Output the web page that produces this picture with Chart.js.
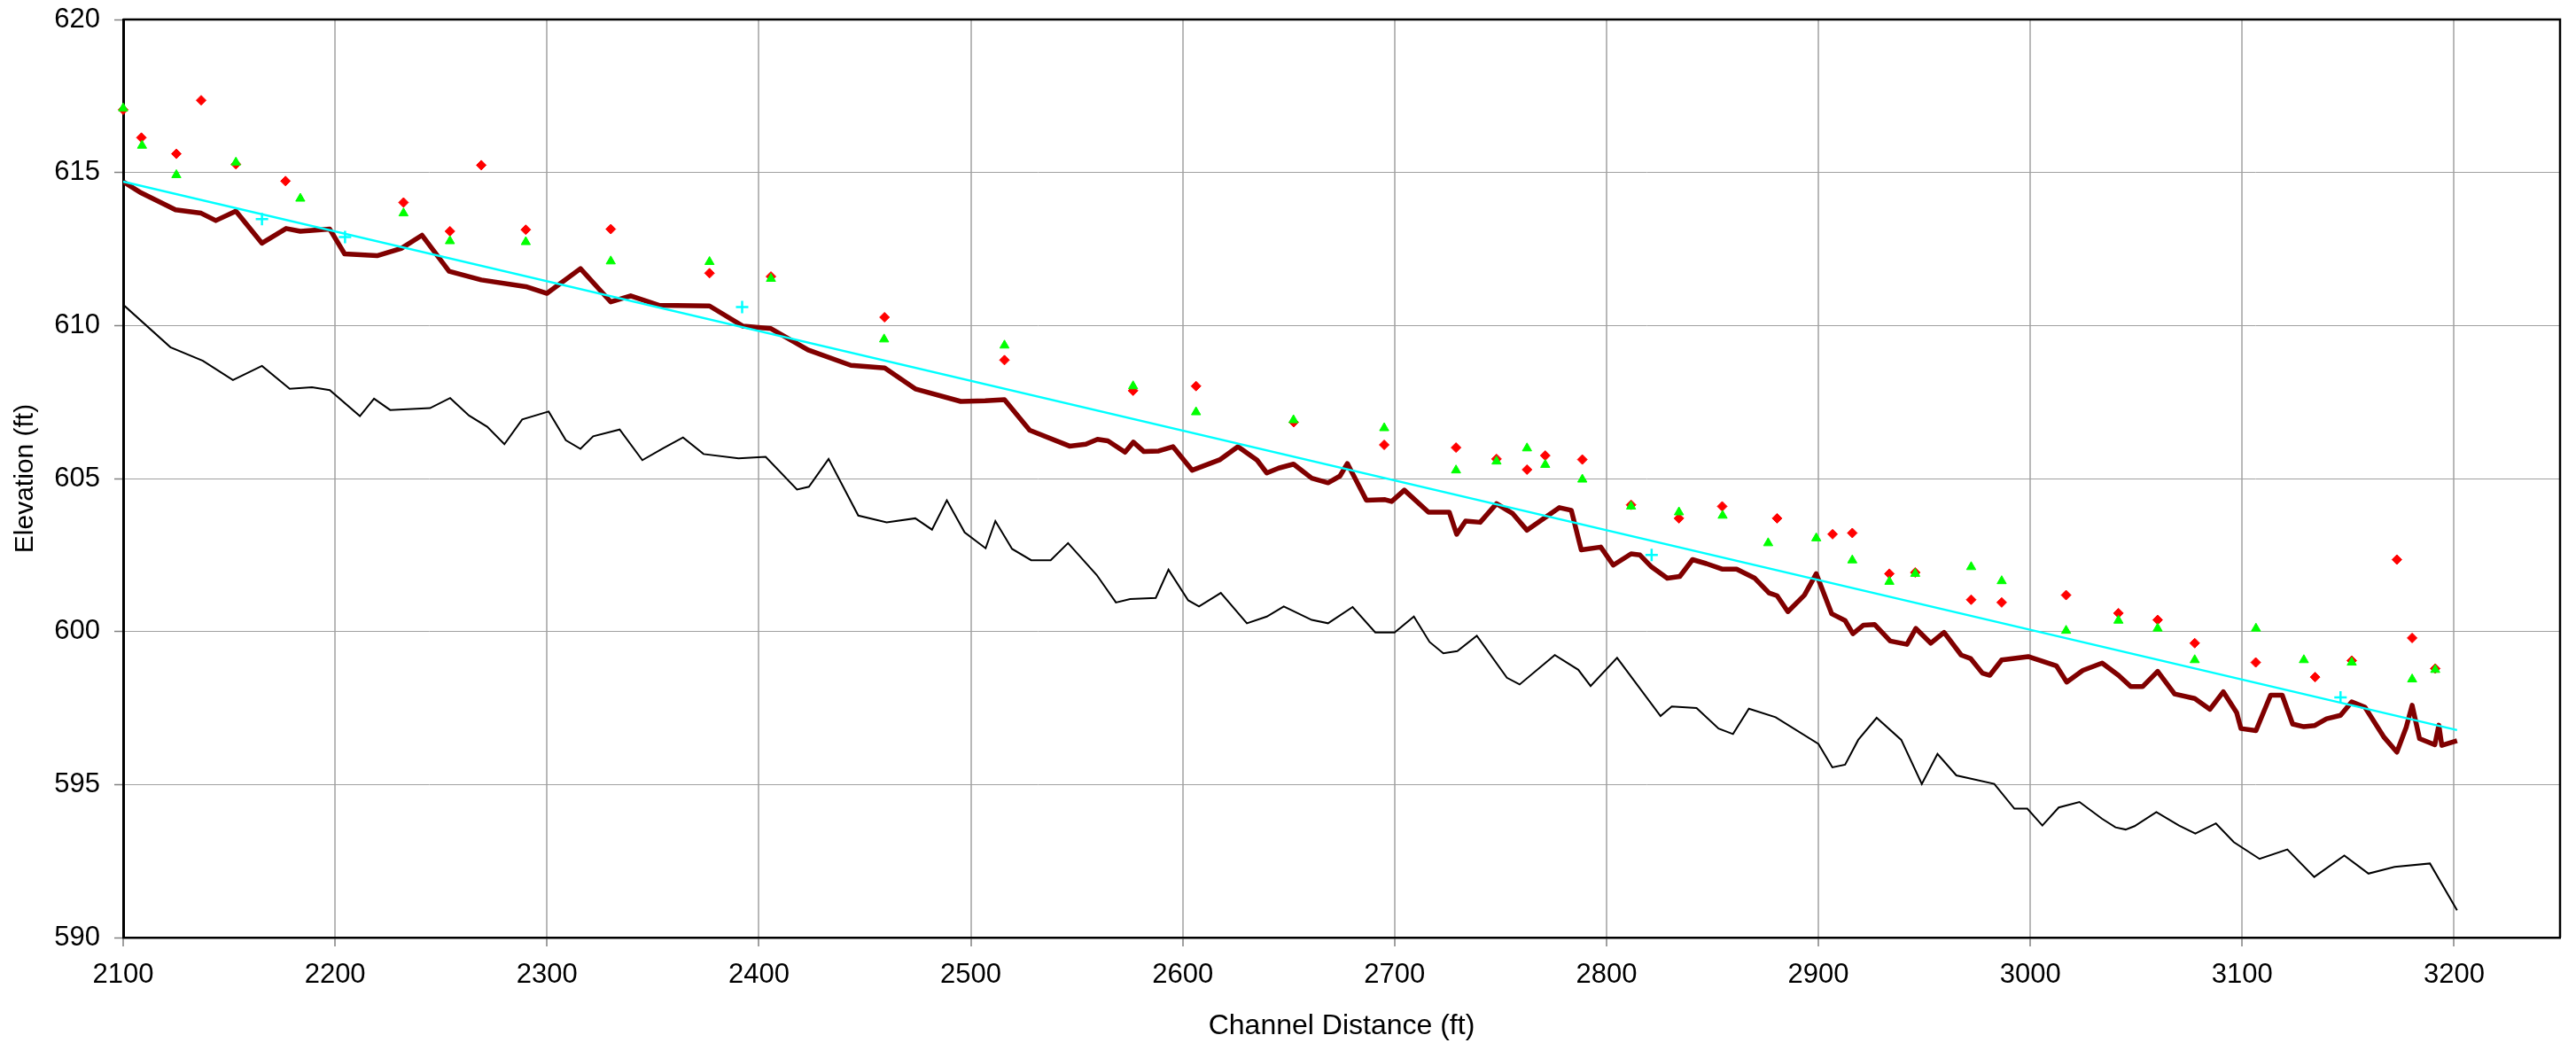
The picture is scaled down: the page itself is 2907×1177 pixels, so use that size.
<!DOCTYPE html>
<html>
<head>
<meta charset="utf-8">
<script src="https://cdn.jsdelivr.net/npm/chart.js@4.4.1/dist/chart.umd.min.js"></script>
<style>
  html, body { margin: 0; padding: 0; background: #fff; }
  #wrap { width: 2907px; height: 1177px; }
</style>
</head>
<body>
<div id="wrap"><canvas id="profileChart"></canvas></div>
<script>
// x axis ticks
const xTicks = [2100, 2200, 2300, 2400, 2500, 2600, 2700, 2800, 2900, 3000, 3100, 3200];
const yTicks = [590, 595, 600, 605, 610, 615, 620];

// channel bed (thin black)
const bedDist = [
    2100.0, 2122.3, 2137.6, 2151.8, 2165.5, 2178.6, 2189.1, 2197.5, 2211.7, 2218.4,
    2226.0, 2244.8, 2254.3, 2263.2, 2271.8, 2279.9, 2288.3, 2300.8, 2308.9, 2315.8,
    2321.8, 2334.3, 2345.0, 2354.8, 2364.2, 2373.9, 2390.4, 2403.2, 2418.0, 2423.6,
    2432.9, 2446.9, 2460.3, 2473.8, 2481.7, 2488.7, 2497.1, 2507.0, 2511.6, 2519.5,
    2528.5, 2537.7, 2545.9, 2559.4, 2568.5, 2575.2, 2587.3, 2593.3, 2602.6, 2607.7,
    2618.0, 2630.3, 2639.7, 2647.7, 2660.9, 2668.6, 2680.2, 2690.9, 2700.0, 2709.1,
    2716.5, 2723.0, 2729.6, 2738.8, 2753.0, 2759.0, 2775.6, 2786.7, 2792.5, 2805.0,
    2825.5, 2830.8, 2842.5, 2852.9, 2859.7, 2867.2, 2879.8, 2900.0, 2906.6, 2912.6,
    2918.8, 2927.5, 2939.1, 2948.8, 2956.2, 2965.1, 2983.0, 2992.5, 2998.6, 3005.7,
    3013.4, 3023.2, 3033.9, 3040.2, 3045.0, 3049.2, 3059.5, 3070.2, 3077.9, 3087.6,
    3096.0, 3108.2, 3121.3, 3134.0, 3148.2, 3159.6, 3171.9, 3188.6, 3201.4
];
const bedElev = [
    610.68, 609.29, 608.85, 608.22, 608.68, 607.93, 607.98, 607.89, 607.04, 607.61,
    607.24, 607.30, 607.63, 607.06, 606.69, 606.12, 606.93, 607.19, 606.25, 605.97,
    606.38, 606.60, 605.60, 605.99, 606.34, 605.80, 605.66, 605.71, 604.64, 604.73,
    605.64, 603.79, 603.57, 603.70, 603.33, 604.29, 603.24, 602.72, 603.61, 602.70,
    602.33, 602.33, 602.89, 601.85, 600.95, 601.06, 601.10, 602.02, 601.02, 600.82,
    601.26, 600.27, 600.49, 600.82, 600.38, 600.27, 600.80, 599.97, 599.97, 600.49,
    599.66, 599.29, 599.36, 599.86, 598.49, 598.27, 599.23, 598.75, 598.22, 599.14,
    597.24, 597.55, 597.50, 596.83, 596.65, 597.48, 597.20, 596.33, 595.56, 595.65,
    596.46, 597.18, 596.46, 595.02, 596.00, 595.30, 595.02, 594.21, 594.21, 593.66,
    594.25, 594.43, 593.88, 593.60, 593.53, 593.64, 594.10, 593.66, 593.40, 593.73,
    593.12, 592.57, 592.88, 591.98, 592.68, 592.09, 592.31, 592.42, 590.89
];

// water surface (thick dark red)
const wsDist = [
    2100.0, 2108.6, 2124.7, 2136.8, 2143.7, 2153.2, 2165.5, 2176.9, 2183.6, 2197.5,
    2204.5, 2219.8, 2231.2, 2241.0, 2253.8, 2269.0, 2290.0, 2300.0, 2315.8, 2330.1,
    2339.5, 2353.0, 2376.7, 2392.5, 2405.7, 2423.2, 2443.4, 2459.4, 2473.8, 2495.3,
    2506.8, 2515.9, 2527.8, 2546.6, 2554.3, 2559.8, 2564.7, 2572.8, 2576.7, 2581.7,
    2588.7, 2595.4, 2604.5, 2617.7, 2626.1, 2635.1, 2639.7, 2645.3, 2652.3, 2660.9,
    2668.6, 2674.2, 2677.7, 2686.7, 2695.5, 2698.6, 2704.6, 2716.0, 2725.8, 2729.3,
    2733.5, 2740.4, 2748.1, 2755.8, 2762.5, 2769.7, 2777.8, 2783.4, 2788.1, 2797.3,
    2803.2, 2811.6, 2815.8, 2821.3, 2828.7, 2834.6, 2840.6, 2847.1, 2854.5, 2861.4,
    2870.0, 2876.7, 2880.5, 2885.6, 2893.4, 2899.0, 2906.3, 2912.6, 2916.3, 2921.3,
    2926.5, 2933.9, 2941.8, 2946.0, 2953.0, 2959.3, 2967.4, 2971.8, 2977.4, 2980.9,
    2986.5, 2999.0, 3012.3, 3017.2, 3024.8, 3033.9, 3041.6, 3047.4, 3053.0, 3060.1,
    3068.1, 3077.6, 3084.8, 3091.1, 3097.4, 3099.4, 3106.5, 3113.4, 3118.9, 3123.8,
    3129.1, 3134.3, 3139.8, 3146.4, 3151.7, 3157.9, 3167.0, 3173.0, 3177.4, 3180.2,
    3183.7, 3190.9, 3192.8, 3194.2, 3201.4
];
const wsElev = [
    614.70, 614.33, 613.78, 613.67, 613.43, 613.74, 612.69, 613.17, 613.08, 613.15,
    612.34, 612.28, 612.52, 612.95, 611.77, 611.49, 611.27, 611.05, 611.86, 610.77,
    610.97, 610.66, 610.64, 609.98, 609.90, 609.20, 608.70, 608.61, 607.93, 607.52,
    607.54, 607.58, 606.58, 606.06, 606.12, 606.28, 606.23, 605.86, 606.19, 605.88,
    605.90, 606.04, 605.27, 605.62, 606.04, 605.60, 605.18, 605.34, 605.47, 605.01,
    604.86, 605.08, 605.49, 604.29, 604.31, 604.25, 604.62, 603.90, 603.90, 603.18,
    603.61, 603.57, 604.18, 603.85, 603.31, 603.66, 604.05, 603.96, 602.67, 602.76,
    602.17, 602.54, 602.50, 602.11, 601.74, 601.80, 602.35, 602.22, 602.04, 602.04,
    601.74, 601.26, 601.17, 600.65, 601.19, 601.89, 600.58, 600.36, 599.93, 600.21,
    600.23, 599.69, 599.58, 600.10, 599.62, 599.97, 599.23, 599.12, 598.64, 598.57,
    599.07, 599.18, 598.88, 598.35, 598.73, 598.97, 598.57, 598.20, 598.20, 598.70,
    597.96, 597.81, 597.46, 598.03, 597.35, 596.83, 596.76, 597.92, 597.92, 596.98,
    596.89, 596.93, 597.15, 597.26, 597.70, 597.53, 596.54, 596.06, 596.87, 597.59,
    596.50, 596.30, 596.94, 596.28, 596.43
];

// cyan trend line and its "+" points
const trendDist = [2100.0, 3201.4];
const trendElev = [614.70, 596.78];
const crossDist = [2165.5, 2204.7, 2392.1, 2821.3, 3146.4];
const crossElev = [613.48, 612.89, 610.60, 602.50, 597.85];

// red diamonds
const diamondDist = [
    2100.0, 2108.6, 2125.1, 2136.8, 2153.2, 2176.6, 2232.3, 2254.2, 2269.0, 2290.0,
    2330.1, 2376.7, 2405.7, 2459.3, 2515.9, 2576.6, 2606.3, 2652.4, 2695.1, 2729.0,
    2748.1, 2762.5, 2771.1, 2788.6, 2811.6, 2834.2, 2854.6, 2880.5, 2906.7, 2916.0,
    2933.5, 2945.7, 2972.1, 2986.5, 3016.9, 3041.6, 3060.1, 3077.6, 3106.4, 3134.4,
    3151.7, 3173.0, 3180.2, 3191.1
];
const diamondElev = [
    617.05, 616.14, 615.61, 617.36, 615.27, 614.72, 614.02, 613.08, 615.24, 613.13,
    613.15, 611.71, 611.60, 610.27, 608.87, 607.87, 608.02, 606.84, 606.10, 606.01,
    605.64, 605.29, 605.75, 605.62, 604.14, 603.70, 604.09, 603.70, 603.18, 603.22,
    601.89, 601.93, 601.04, 600.95, 601.19, 600.60, 600.38, 599.62, 598.99, 598.51,
    599.05, 602.35, 599.79, 598.79
];

// green triangles
const triDist = [
    2100.0, 2108.9, 2125.1, 2153.2, 2183.6, 2232.3, 2254.2, 2290.0, 2330.1, 2376.7,
    2405.7, 2459.1, 2515.9, 2576.6, 2606.3, 2652.3, 2695.1, 2729.0, 2748.1, 2762.5,
    2771.1, 2788.6, 2811.6, 2834.2, 2854.8, 2876.3, 2899.0, 2916.0, 2933.5, 2945.7,
    2972.1, 2986.5, 3016.9, 3041.6, 3060.1, 3077.6, 3106.5, 3129.1, 3151.7, 3180.2,
    3191.1
];
const triElev = [
    617.10, 615.88, 614.92, 615.33, 614.15, 613.67, 612.76, 612.73, 612.10, 612.08,
    611.53, 609.55, 609.35, 608.02, 607.17, 606.91, 606.65, 605.27, 605.56, 605.99,
    605.45, 604.97, 604.09, 603.90, 603.79, 602.89, 603.05, 602.33, 601.63, 601.89,
    602.11, 601.65, 600.03, 600.36, 600.10, 599.07, 600.10, 599.07, 598.99, 598.44,
    598.75
];

function pts(xs, ys) {
    return xs.map(function(x, i) { return { x: x, y: ys[i] }; });
}

const FONT = 'Arial, "Liberation Sans", sans-serif';

// white background + top/right frame
const framePlugin = {
    id: 'frame',
    beforeDraw: function(chart) {
        const c = chart.ctx;
        c.save();
        c.fillStyle = '#ffffff';
        c.fillRect(0, 0, chart.width, chart.height);
        c.restore();
    },
    afterDraw: function(chart) {
        const a = chart.chartArea;
        const c = chart.ctx;
        c.save();
        c.strokeStyle = '#000000';
        c.lineWidth = 2.5;
        c.beginPath();
        c.moveTo(a.left, a.top);
        c.lineTo(a.right, a.top);
        c.lineTo(a.right, a.bottom);
        c.stroke();
        c.restore();
    }
};

document.addEventListener('DOMContentLoaded', function() {
    const ctx = document.getElementById('profileChart').getContext('2d');
    new Chart(ctx, {
        type: 'scatter',
        data: {
            datasets: [
                {
                    label: 'Triangles',
                    data: pts(triDist, triElev),
                    pointStyle: 'triangle',
                    pointRadius: 6,
                    backgroundColor: '#00ff00',
                    borderColor: '#00ff00',
                    borderWidth: 1,
                    showLine: false,
                    clip: false
                },
                {
                    label: 'Diamonds',
                    data: pts(diamondDist, diamondElev),
                    pointStyle: 'rectRot',
                    pointRadius: 5.5,
                    backgroundColor: '#ff0000',
                    borderColor: '#ff0000',
                    borderWidth: 1,
                    showLine: false,
                    clip: false
                },
                {
                    label: 'Crosses',
                    data: pts(crossDist, crossElev),
                    pointStyle: 'cross',
                    pointRadius: 7,
                    backgroundColor: '#00ffff',
                    borderColor: '#00ffff',
                    borderWidth: 2.5,
                    showLine: false,
                    clip: false
                },
                {
                    label: 'Trend',
                    data: pts(trendDist, trendElev),
                    showLine: true,
                    borderColor: '#00ffff',
                    borderWidth: 2.5,
                    pointRadius: 0,
                    tension: 0
                },
                {
                    label: 'Water surface',
                    data: pts(wsDist, wsElev),
                    showLine: true,
                    borderColor: '#800000',
                    borderWidth: 5.5,
                    borderJoinStyle: 'round',
                    pointRadius: 0,
                    tension: 0
                },
                {
                    label: 'Bed',
                    data: pts(bedDist, bedElev),
                    showLine: true,
                    borderColor: '#000000',
                    borderWidth: 2,
                    pointRadius: 0,
                    tension: 0
                }
            ]
        },
        options: {
            responsive: true,
            maintainAspectRatio: false,
            animation: false,
            events: [],
            layout: {
                padding: { top: 22, right: 18, left: 0, bottom: 0 }
            },
            plugins: {
                legend: { display: false },
                tooltip: { enabled: false }
            },
            scales: {
                x: {
                    type: 'linear',
                    min: 2100,
                    max: 3250,
                    afterBuildTicks: function(axis) {
                        axis.ticks = xTicks.map(function(v) { return { value: v }; });
                    },
                    afterFit: function(axis) {
                        axis.height = 119;
                        axis.paddingLeft = 0;
                        axis.paddingRight = 0;
                    },
                    ticks: {
                        color: '#000000',
                        padding: 14,
                        maxRotation: 0,
                        autoSkip: false,
                        callback: function(v) { return String(v); },
                        font: { family: FONT, size: 31 }
                    },
                    grid: {
                        color: '#b8b8b8',
                        lineWidth: 2,
                        tickLength: 10,
                        tickColor: '#808080',
                        tickWidth: 1.5
                    },
                    border: { color: '#000000', width: 2.5 },
                    title: {
                        display: true,
                        text: 'Channel Distance (ft)',
                        color: '#000000',
                        padding: { top: 0, bottom: 0 },
                        font: { family: FONT, size: 32 }
                    }
                },
                y: {
                    type: 'linear',
                    min: 590,
                    max: 620,
                    afterBuildTicks: function(axis) {
                        axis.ticks = yTicks.map(function(v) { return { value: v }; });
                    },
                    afterFit: function(axis) {
                        axis.width = 139;
                        axis.paddingTop = 0;
                        axis.paddingBottom = 0;
                    },
                    ticks: {
                        color: '#000000',
                        padding: 16,
                        callback: function(v) { return String(v); },
                        font: { family: FONT, size: 31 }
                    },
                    grid: {
                        color: '#a0a0a0',
                        lineWidth: 1,
                        tickLength: 10,
                        tickColor: '#808080',
                        tickWidth: 1.5
                    },
                    border: { color: '#000000', width: 3 },
                    title: {
                        display: true,
                        text: 'Elevation (ft)',
                        color: '#000000',
                        padding: { top: 11, bottom: 0 },
                        font: { family: FONT, size: 30 }
                    }
                }
            }
        },
        plugins: [framePlugin]
    });
});
</script>
</body>
</html>
